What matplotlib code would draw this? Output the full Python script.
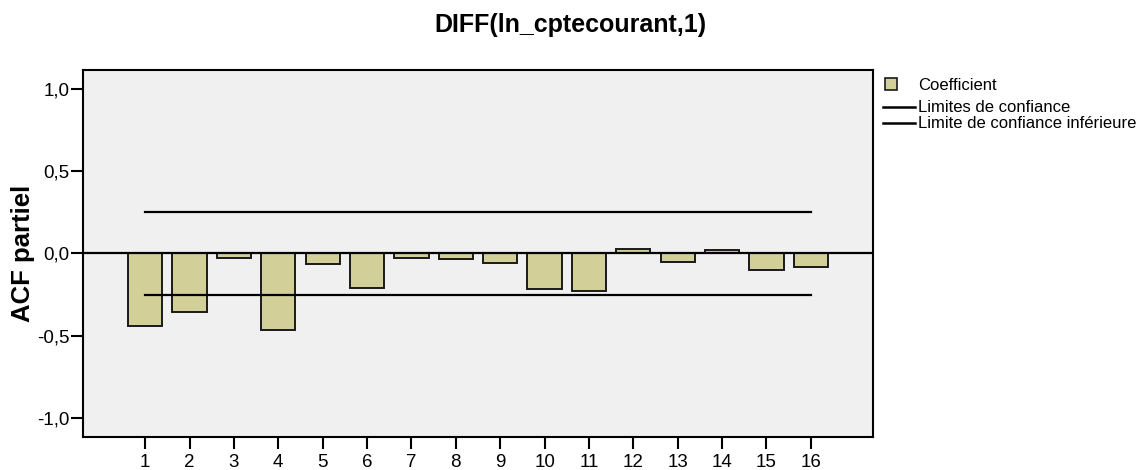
import matplotlib
matplotlib.use("Agg")
from matplotlib import pyplot as plt
from matplotlib.patches import Rectangle
from matplotlib.lines import Line2D

# Lags and partial autocorrelation coefficients
lags = list(range(1, 17))
pacf = [-0.441, -0.358, -0.030, -0.466, -0.067, -0.209, -0.030, -0.035,
        -0.061, -0.215, -0.231, 0.024, -0.053, 0.020, -0.103, -0.083]
conf_upper = 0.25
conf_lower = -0.25
legend_labels = ['Coefficient', 'Limites de confiance', 'Limite de confiance inférieure']

plt.rcParams['font.family'] = ['Liberation Sans', 'DejaVu Sans']

bar_color = '#d3cf98'
bg_color = '#f0f0f0'
W, H = 1141, 470

fig = plt.figure(figsize=(W / 100, H / 100), dpi=100)
ax = fig.add_axes([83 / W, 33 / H, 790 / W, 367 / H])
ax.set_facecolor(bg_color)

ax.bar(lags, pacf, width=0.77, color=bar_color, edgecolor='#1a1a1a', linewidth=1.4, zorder=2)
ax.axhline(0, color='black', linewidth=1.6, zorder=3)
ax.plot([lags[0], lags[-1]], [conf_upper, conf_upper], color='black', linewidth=1.6, zorder=3)
ax.plot([lags[0], lags[-1]], [conf_lower, conf_lower], color='black', linewidth=1.6, zorder=3)

ax.set_xlim(-0.4, 17.4)
ax.set_ylim(-1.115, 1.113)
ax.set_xticks(lags)
ax.set_xticklabels([str(l) for l in lags])
ax.set_yticks([-1.0, -0.5, 0.0, 0.5, 1.0])
ax.set_yticklabels(['-1,0', '-0,5', '0,0', '0,5', '1,0'])
ax.tick_params(axis='both', direction='out', length=8.5, width=1.5, labelsize=13.5)
ax.tick_params(axis='y', pad=1)
ax.tick_params(axis='x', pad=4)

for s in ax.spines.values():
    s.set_linewidth(1.5)

ax.set_ylabel('ACF partiel', fontsize=18.5, fontweight='bold', labelpad=2)
fig.text(0.5, 1 - 25 / H, 'DIFF(ln_cptecourant,1)', ha='center', va='center',
         fontsize=18, fontweight='bold')

# legend drawn in figure pixels, right of the plot area
def fx(px):
    return px / W

def fy(py):
    return 1 - py / H

fig.patches.append(Rectangle((fx(885), fy(90)), 12 / W, 12 / H, transform=fig.transFigure,
                             facecolor=bar_color, edgecolor='#1a1a1a', linewidth=1.2))
for py in (107, 123):
    fig.lines.append(Line2D([fx(883), fx(915)], [fy(py), fy(py)], transform=fig.transFigure,
                            color='black', linewidth=1.8))
for py, label in zip((85, 107, 123), legend_labels):
    fig.text(fx(918), fy(py), label, ha='left', va='center', fontsize=12)

fig.savefig('out.png', dpi=100)
